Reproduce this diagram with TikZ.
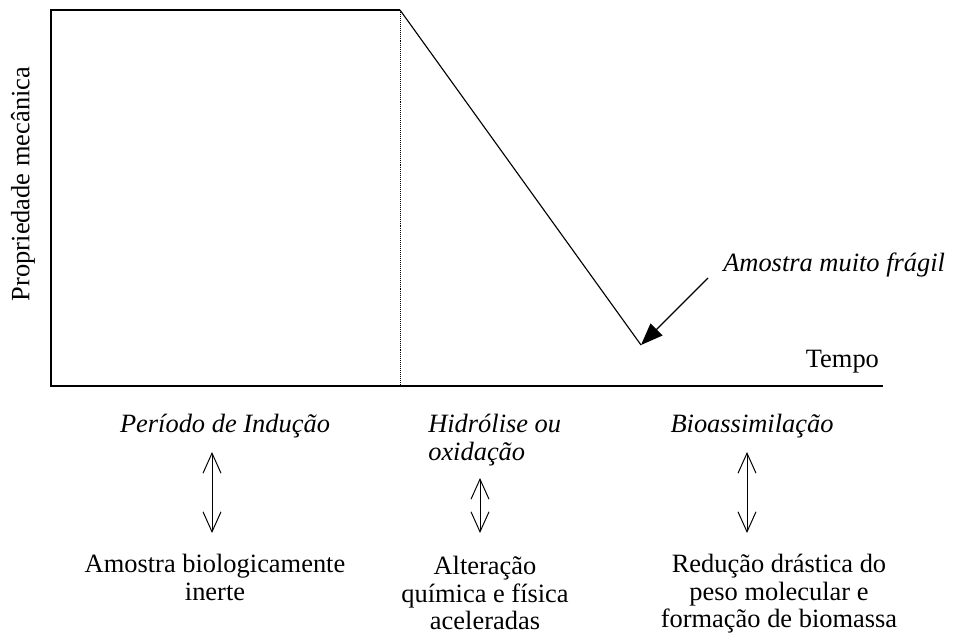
\documentclass[tikz,border=0pt]{standalone}
\usepackage{fontspec}
\setmainfont{Liberation Serif}
\usepackage{tikz}
\usetikzlibrary{arrows.meta}

\tikzset{
  txt/.style={inner sep=0pt, font=\fontsize{18.8}{19.6}\selectfont},
  itxt/.style={txt, font=\fontsize{18.8}{19.6}\selectfont\itshape},
  dbl/.style={line width=0.7pt, {Straight Barb[length=0.5cm,width=0.45cm]}-{Straight Barb[length=0.5cm,width=0.45cm]}}
}

\begin{document}
\begin{tikzpicture}
   \useasboundingbox (0,0) rectangle (23.9,16.05);
   % axes
   \draw[line width=1pt] (10,15.8) -- (1.275,15.8) -- (1.275,6.4) -- (22.075,6.4);
   \draw[line width=0.5pt, dash pattern=on 0.6pt off 0.8pt] (10,15.8) -- (10,6.4);
   \coordinate (top) at (10,15.8);
   \coordinate (low) at (16.025,7.425);
   \draw[line width=0.8pt] (top) -- (low);
   \node[txt, rotate=90] (prop) at (0.575,11.45) {Propriedade mecânica};
   \node[txt, anchor=base] (tempo) at (21.06,6.85) {Tempo};
   \node[itxt, anchor=base west] (fragil) at (18.075,9.25) {Amostra muito frágil};
   \draw[line width=0.8pt, -{Triangle[length=0.55cm,width=0.42cm]}] ([xshift=-0.375cm,yshift=-0.15cm]fragil.base west) -- (low);

   % stages
   \node[itxt, anchor=base] (indu) at (5.625,5.225) {Período de Indução};
   \node[itxt, anchor=north west, align=left] (hidro) at (10.7,5.7) {Hidrólise ou\\oxidação};
   \node[itxt, anchor=base] (bio) at (18.8,5.225) {Bioassimilação};

   \coordinate (a1) at (5.3,4.75);   \coordinate (b1) at (5.3,2.725);
   \coordinate (a2) at (12.0,4.1);   \coordinate (b2) at (12.0,2.725);
   \coordinate (a3) at (18.675,4.75); \coordinate (b3) at (18.675,2.725);
   \draw[dbl] (a1) -- (b1);
   \draw[dbl] (a2) -- (b2);
   \draw[dbl] (a3) -- (b3);

   \node[txt, anchor=north, align=center] (inerte) at (5.375,2.2) {Amostra biologicamente\\inerte};
   \node[txt, anchor=north, align=center] (alter) at (12.125,2.15) {Alteração\\química e física\\aceleradas};
   \node[txt, anchor=north, align=center] (reduc) at (19.475,2.2) {Redução drástica do\\peso molecular e\\formação de biomassa};
\end{tikzpicture}
\end{document}
